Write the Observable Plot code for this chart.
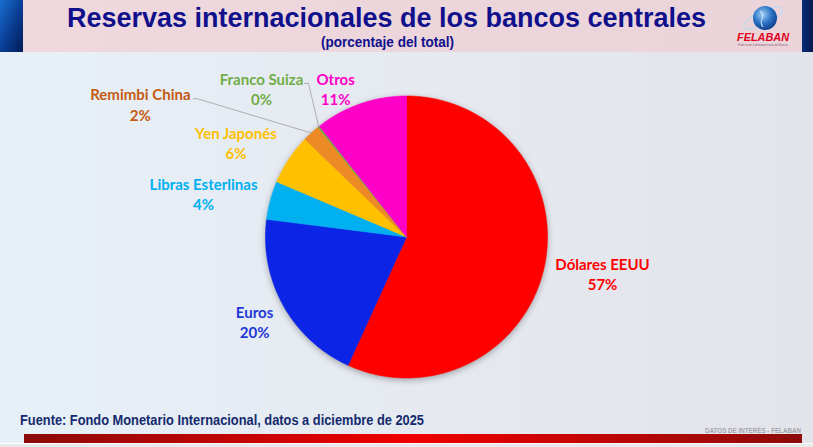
<!DOCTYPE html>
<html><head><meta charset="utf-8">
<script src="https://cdn.jsdelivr.net/npm/d3@7"></script>
<script src="https://cdn.jsdelivr.net/npm/@observablehq/plot@0.6"></script>
<style>
html,body{margin:0;padding:0;}
body{width:813px;height:447px;overflow:hidden;background:linear-gradient(90deg,#e7f0f8 0%,#e6eaf1 45%,#e3e4ea 100%);font-family:Lato,sans-serif;}
#header{width:813px;height:52px;display:block;}
#chart{width:813px;height:358px;}
#footer{width:813px;height:37px;}
svg{display:block;}
</style></head><body>
<svg id="header" width="813" height="52">
  <defs>
    <linearGradient id="hdr" x1="0" x2="1"><stop offset="0" stop-color="#efd8de"/><stop offset="0.5" stop-color="#ecd5db"/><stop offset="1" stop-color="#ead4da"/></linearGradient>
    <linearGradient id="lb" x1="0" y1="0" x2="1" y2="1"><stop offset="0" stop-color="#1a6fd0"/><stop offset="0.5" stop-color="#0a3f96"/><stop offset="1" stop-color="#021a55"/></linearGradient>
    <linearGradient id="rb" x1="0" x2="1"><stop offset="0" stop-color="#0a2d78"/><stop offset="1" stop-color="#041a4e"/></linearGradient>
    <radialGradient id="globe" cx="0.4" cy="0.35" r="0.7"><stop offset="0" stop-color="#9fd0f5"/><stop offset="0.55" stop-color="#2a72c4"/><stop offset="1" stop-color="#0d3a86"/></radialGradient>
  </defs>
  <rect x="0" y="0" width="813" height="52" fill="url(#hdr)"/>
  <rect x="0" y="0" width="23" height="52" fill="url(#lb)"/>
  <rect x="802" y="0" width="11" height="52" fill="url(#rb)"/>
  <text id="title" x="386.5" y="27" text-anchor="middle" textLength="639" lengthAdjust="spacingAndGlyphs" font-family="'Liberation Sans Narrow','Arial Narrow','Liberation Sans',sans-serif" font-weight="bold" font-size="27" fill="#10108c">Reservas internacionales de los bancos centrales</text>
  <text x="387.5" y="47" text-anchor="middle" textLength="133" lengthAdjust="spacingAndGlyphs" font-family="'Liberation Sans Narrow','Arial Narrow','Liberation Sans',sans-serif" font-weight="bold" font-size="14" fill="#10108c">(porcentaje del total)</text>
  <g>
    <ellipse cx="763" cy="18" rx="21" ry="7" fill="none" stroke="#c9d7ea" stroke-width="1.5" transform="rotate(-25 763 18)"/>
    <circle cx="765" cy="18" r="12" fill="url(#globe)"/>
    <path d="M760 11 q4 3 2 8 q-2 4 1 8" fill="none" stroke="#dcecfa" stroke-width="1.2" opacity="0.8"/>
    <text x="763" y="41" text-anchor="middle" font-family="'Liberation Sans',Arial,sans-serif" font-style="italic" font-weight="bold" font-size="11" fill="#e3001b" textLength="52" lengthAdjust="spacingAndGlyphs">FELABAN</text>
    <text x="763" y="45.5" text-anchor="middle" font-family="'Liberation Sans',Arial,sans-serif" font-size="2.6" fill="#8a6070" textLength="50" lengthAdjust="spacingAndGlyphs">Federación Latinoamericana de Bancos</text>
  </g>
</svg>
<div id="chart"></div>
<svg id="footer" width="813" height="37">
  <defs>
    <linearGradient id="bar" x1="0" x2="1"><stop offset="0" stop-color="#8c0a0a"/><stop offset="0.5" stop-color="#f00000"/><stop offset="1" stop-color="#8c0a0a"/></linearGradient>
  </defs>
  <text x="20" y="15" font-family="'Liberation Sans Narrow','Arial Narrow','Liberation Sans',sans-serif" font-weight="bold" font-size="14" fill="#142a6e" textLength="404" lengthAdjust="spacingAndGlyphs">Fuente: Fondo Monetario Internacional, datos a diciembre de 2025</text>
  <text x="801" y="22.5" text-anchor="end" font-family="'Liberation Sans Narrow','Arial Narrow','Liberation Sans',sans-serif" font-weight="bold" font-size="7" fill="#a3a4ad" textLength="96" lengthAdjust="spacingAndGlyphs">DATOS DE INTERÉS - FELABAN</text>
  <rect x="24" y="24" width="778" height="9" fill="url(#bar)"/>
  <rect x="0" y="33" width="813" height="1" fill="#ffffff"/>
  <rect x="0" y="34" width="813" height="3" fill="#e9e9ec"/>
</svg>
<script>
// ---- data ----
const categories = ["Dólares EEUU", "Euros", "Libras Esterlinas", "Yen Japonés", "Remimbi China", "Franco Suiza", "Otros"];
const shares = [56.8, 20.2, 4.4, 5.8, 2.0, 0.2, 10.6];
const pctLabels = ["57%", "20%", "4%", "6%", "2%", "0%", "11%"];

// ---- styles ----
const sliceColors = ["#ff0000", "#0b24e6", "#00b0f0", "#ffc000", "#ed8a25", "#70ad47", "#ff00c8"];
const labelColors = ["#ff0000", "#1f38d8", "#00b0f0", "#ffc000", "#c55a11", "#70ad47", "#ff00c8"];

// ---- layout (label angle in degrees clockwise from top, radius in pie radii) ----
const R = 141;            // pie radius in px
const W = 813, H = 358;   // svg size
const CX = 406, CY = 184.5; // pie centre in svg px
const labelAngle = [100.5, 240.9, 282.1, 299, 296.6, 315.7, 334.5];
const labelRadius = [1.414, 1.233, 1.472, 1.383, 2.111, 1.472, 1.167];
const leaderEnd = [null, null, null, null, [53, -5], [43, -5], null]; // px offset from label centre

const pie = d3.pie().sort(null).value(d => d)(shares);

const slicePts = [];
pie.forEach((a, i) => {
  const name = categories[i], color = sliceColors[i];
  slicePts.push({name, color, x: 0, y: 0});
  const n = Math.max(2, Math.ceil((a.endAngle - a.startAngle) / (Math.PI / 360)));
  for (let k = 0; k <= n; k++) {
    const t = a.startAngle + (a.endAngle - a.startAngle) * k / n;
    slicePts.push({name, color, x: Math.sin(t), y: Math.cos(t)});
  }
  slicePts.push({name, color, x: 0, y: 0});
});

const labels = categories.map((name, i) => {
  const t = labelAngle[i] * Math.PI / 180;
  return {name, text: name + "\n" + pctLabels[i], color: labelColors[i],
          x: labelRadius[i] * Math.sin(t), y: labelRadius[i] * Math.cos(t)};
});

const leaders = [];
categories.forEach((name, i) => {
  if (!leaderEnd[i]) return;
  const mid = (pie[i].startAngle + pie[i].endAngle) / 2;
  const L = labels[i];
  const ex = L.x + leaderEnd[i][0] / R, ey = L.y - leaderEnd[i][1] / R;
  leaders.push({name, x: Math.sin(mid), y: Math.cos(mid)});
  leaders.push({name, x: ex + 4 / R, y: ey});
  leaders.push({name, x: ex, y: ey});
});

const chart = Plot.plot({
  width: W, height: H,
  margin: 0,
  style: {background: "transparent", overflow: "visible"},
  x: {axis: null, domain: [-CX / R, (W - CX) / R]},
  y: {axis: null, domain: [-(H - CY) / R, CY / R]},
  color: {type: "identity"},
  marks: [
    Plot.line(slicePts, {x: "x", y: "y", z: "name", fill: "color", stroke: "color", strokeWidth: 0.6}),
    Plot.line(leaders, {x: "x", y: "y", z: "name", stroke: "#a0a0a0", strokeWidth: 0.8}),
    Plot.text(labels, {x: "x", y: "y", text: "text", fill: "color", fontSize: 15, fontWeight: "bold",
      fontFamily: "Lato, 'Open Sans', sans-serif", lineHeight: 1.37, lineAnchor: "middle", textAnchor: "middle"})
  ]
});
const lineGroups = chart.querySelectorAll('g[aria-label="line"]');
if (lineGroups.length) lineGroups[0].style.filter = "drop-shadow(0px 2px 3px rgba(0,0,0,0.3))";
document.getElementById("chart").appendChild(chart);
</script>
</body></html>
